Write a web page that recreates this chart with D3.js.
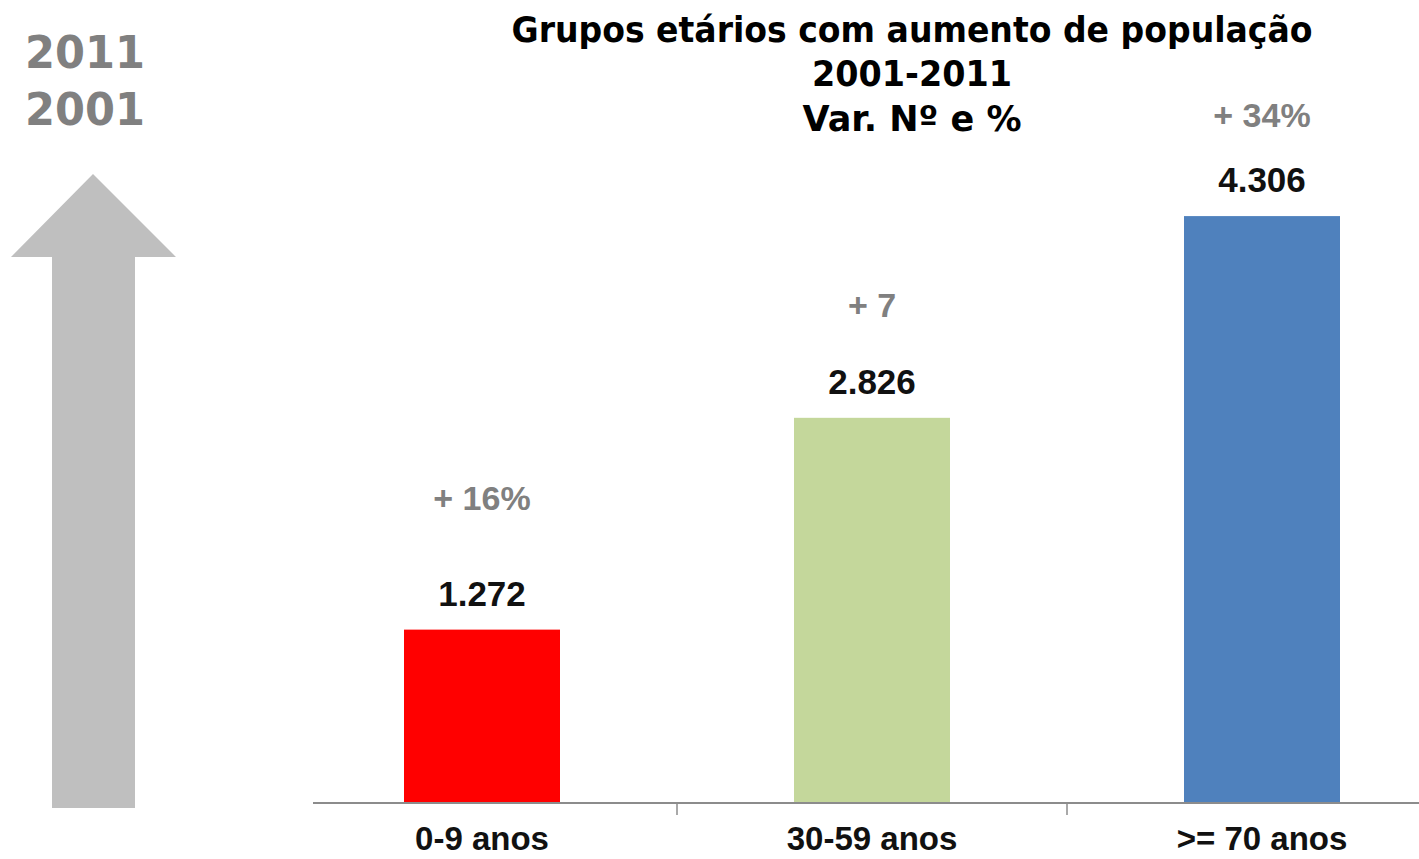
<!DOCTYPE html>
<html>
<head>
<meta charset="utf-8">
<script src="https://cdn.jsdelivr.net/npm/d3@7"></script>
<style>
  body { margin: 0; background: #fff; }
  svg { display: block; }
</style>
</head>
<body>
<div id="viz"></div>
<script>
// data
var categories = ["0-9 anos", "30-59 anos", ">= 70 anos"];
var values = [1272, 2826, 4306];
var valueLabels = ["1.272", "2.826", "4.306"];
var pctLabels = ["+ 16%", "+ 7", "+ 34%"];
var barColors = ["#ff0000", "#c4d79b", "#4f81bd"];
var pctLift = [120, 101, 89]; // how far above the bar top the % label sits

var W = 1419, H = 859;
var baseY = 803;

var svg = d3.select("#viz")
  .append("svg")
    .attr("width", W)
    .attr("height", H);

// scales
var x = d3.scaleBand()
    .domain(categories)
    .range([287, 1457])
    .paddingInner(0.6)
    .paddingOuter(0.3);

var y = d3.scaleLinear()
    .domain([0, 5000])
    .range([baseY, baseY - 5000 * 0.1363]);

// left arrow + years
svg.append("polygon")
    .attr("points", "93,174 176,257 135,257 135,808 52,808 52,257 11,257")
    .attr("fill", "#bfbfbf");

svg.selectAll(".yr")
    .data(["2011", "2001"])
    .enter()
    .append("text")
    .attr("x", 25)
    .attr("y", function(d, i) { return 68 + i * 57; })
    .attr("textLength", 120)
    .attr("lengthAdjust", "spacingAndGlyphs")
    .style("font-family", "DejaVu Sans, Verdana, sans-serif")
    .style("font-weight", "bold")
    .style("font-size", "44px")
    .style("fill", "#808080")
    .text(function(d) { return d; });

// title
var titleLines = [
  {t: "Grupos etários com aumento de população", y: 42, w: 801},
  {t: "2001-2011", y: 86, w: 200},
  {t: "Var. Nº e %", y: 131, w: 219}
];
svg.selectAll(".title")
    .data(titleLines)
    .enter()
    .append("text")
    .attr("x", 912)
    .attr("y", function(d) { return d.y; })
    .attr("text-anchor", "middle")
    .attr("textLength", function(d) { return d.w; })
    .attr("lengthAdjust", "spacingAndGlyphs")
    .style("font-family", "DejaVu Sans, Verdana, sans-serif")
    .style("font-weight", "bold")
    .style("font-size", "35px")
    .style("fill", "#000")
    .text(function(d) { return d.t; });

// bars
svg.selectAll(".bar")
    .data(values)
    .enter()
    .append("rect")
    .attr("x", function(d, i) { return x(categories[i]); })
    .attr("y", function(d) { return y(d); })
    .attr("width", x.bandwidth())
    .attr("height", function(d) { return y(0) - y(d); })
    .attr("fill", function(d, i) { return barColors[i]; });

// axis line and inner ticks (at band boundaries)
svg.append("line")
    .attr("x1", 313).attr("x2", W)
    .attr("y1", baseY).attr("y2", baseY)
    .attr("stroke", "#8c8c8c")
    .attr("stroke-width", 2);

svg.selectAll(".tick")
    .data(categories.slice(1))
    .enter()
    .append("line")
    .attr("x1", function(d) { return x(d) - x.step() * x.paddingInner() / 2; })
    .attr("x2", function(d) { return x(d) - x.step() * x.paddingInner() / 2; })
    .attr("y1", baseY)
    .attr("y2", baseY + 12)
    .attr("stroke", "#8c8c8c")
    .attr("stroke-width", 1.5);

// value labels
svg.selectAll(".val")
    .data(values)
    .enter()
    .append("text")
    .attr("x", function(d, i) { return x(categories[i]) + x.bandwidth() / 2; })
    .attr("y", function(d) { return y(d) - 24; })
    .attr("text-anchor", "middle")
    .style("font-family", "Liberation Sans, Arial, sans-serif")
    .style("font-weight", "bold")
    .style("font-size", "35px")
    .style("fill", "#111")
    .text(function(d, i) { return valueLabels[i]; });

// % labels
svg.selectAll(".pct")
    .data(values)
    .enter()
    .append("text")
    .attr("x", function(d, i) { return x(categories[i]) + x.bandwidth() / 2; })
    .attr("y", function(d, i) { return y(d) - pctLift[i]; })
    .attr("text-anchor", "middle")
    .style("font-family", "Liberation Sans, Arial, sans-serif")
    .style("font-weight", "bold")
    .style("font-size", "34px")
    .style("fill", "#808080")
    .text(function(d, i) { return pctLabels[i]; });

// category labels
svg.selectAll(".cat")
    .data(categories)
    .enter()
    .append("text")
    .attr("x", function(d) { return x(d) + x.bandwidth() / 2; })
    .attr("y", 850)
    .attr("text-anchor", "middle")
    .style("font-family", "Liberation Sans, Arial, sans-serif")
    .style("font-weight", "bold")
    .style("font-size", "33px")
    .style("fill", "#111")
    .text(function(d) { return d; });
</script>
</body>
</html>
